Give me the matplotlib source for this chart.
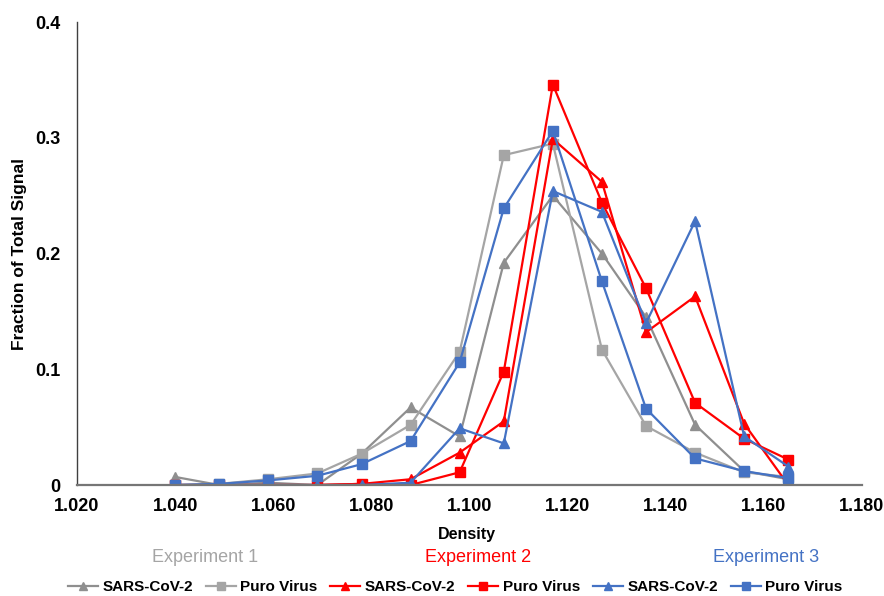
import matplotlib
matplotlib.use("Agg")
from matplotlib import pyplot as plt
from matplotlib.ticker import FixedLocator

plt.rcParams['font.family'] = ['Liberation Sans', 'DejaVu Sans']

density = [1.040, 1.049, 1.059, 1.069, 1.078, 1.088, 1.098,
           1.107, 1.117, 1.127, 1.136, 1.146, 1.156, 1.165]

exp1_sars = [0.007, 0.0, 0.002, 0.0, 0.027, 0.067, 0.042,
             0.192, 0.250, 0.200, 0.145, 0.052, 0.012, 0.005]
exp1_puro = [0.0, 0.001, 0.005, 0.010, 0.027, 0.052, 0.115,
             0.285, 0.295, 0.117, 0.051, 0.028, 0.011, 0.007]
exp2_sars = [0.0, 0.0, 0.0, 0.0, 0.001, 0.005, 0.028,
             0.055, 0.299, 0.262, 0.132, 0.163, 0.053, 0.0]
exp2_puro = [0.0, 0.0, 0.0, 0.0, 0.001, 0.0, 0.011,
             0.098, 0.346, 0.244, 0.170, 0.071, 0.040, 0.022]
exp3_sars = [0.0, 0.0, 0.0, 0.0, 0.0, 0.002, 0.049,
             0.036, 0.254, 0.236, 0.140, 0.228, 0.042, 0.016]
exp3_puro = [0.0, 0.001, 0.004, 0.008, 0.018, 0.038, 0.106,
             0.239, 0.306, 0.176, 0.066, 0.023, 0.012, 0.006]

series = [
    (exp1_sars, '#8f8f8f', '^'),
    (exp1_puro, '#a5a5a5', 's'),
    (exp2_sars, '#ff0000', '^'),
    (exp2_puro, '#ff0000', 's'),
    (exp3_sars, '#4472c4', '^'),
    (exp3_puro, '#4472c4', 's'),
]
labels = ['SARS-CoV-2', 'Puro Virus'] * 3

fig = plt.figure(figsize=(8.84, 5.96), dpi=100)
ax = fig.add_axes([0.0871, 0.1862, 0.8879, 0.7768])

handles = []
for (vals, color, mk), lab in zip(series, labels):
    h, = ax.plot(density, vals, color=color, marker=mk, markersize=7,
                 linewidth=1.6, label=lab)
    handles.append(h)

ax.set_xlim(1.020, 1.180)
ax.set_ylim(0, 0.4)
ax.xaxis.set_major_locator(FixedLocator([1.02 + 0.02 * i for i in range(9)]))
ax.yaxis.set_major_locator(FixedLocator([0, 0.1, 0.2, 0.3, 0.4]))
ax.set_xticklabels([f'{1.02 + 0.02 * i:.3f}' for i in range(9)],
                   fontweight='bold', fontsize=13)
ax.set_yticklabels(['0', '0.1', '0.2', '0.3', '0.4'],
                   fontweight='bold', fontsize=13)
ax.tick_params(axis='both', length=0)
ax.tick_params(axis='x', pad=9)
ax.tick_params(axis='y', pad=12)

for s in ['top', 'right']:
    ax.spines[s].set_visible(False)
ax.spines['left'].set_color('#404040')
ax.spines['left'].set_linewidth(1.0)
ax.spines['bottom'].set_color('#767676')
ax.spines['bottom'].set_linewidth(1.6)

ax.set_ylabel('Fraction of Total Signal', fontweight='bold', fontsize=12.5,
              labelpad=6)
fig.text(0.5283, 1 - 535 / 596, 'Density', ha='center', va='center',
         fontweight='bold', fontsize=11.5)

fig.text(205 / 884, 1 - 557 / 596, 'Experiment 1', ha='center', va='center',
         fontsize=13, color='#a5a5a5')
fig.text(478 / 884, 1 - 557 / 596, 'Experiment 2', ha='center', va='center',
         fontsize=13, color='#ff0000')
fig.text(766 / 884, 1 - 557 / 596, 'Experiment 3', ha='center', va='center',
         fontsize=13, color='#4472c4')

fig.legend(handles, labels, loc='center', bbox_to_anchor=(0.515, 1 - 587 / 596),
           ncol=6, frameon=False, handlelength=1.95, handletextpad=0.3,
           columnspacing=0.85, markerscale=0.75,
           prop={'weight': 'bold', 'size': 11})

fig.savefig('out.png', dpi=100)
